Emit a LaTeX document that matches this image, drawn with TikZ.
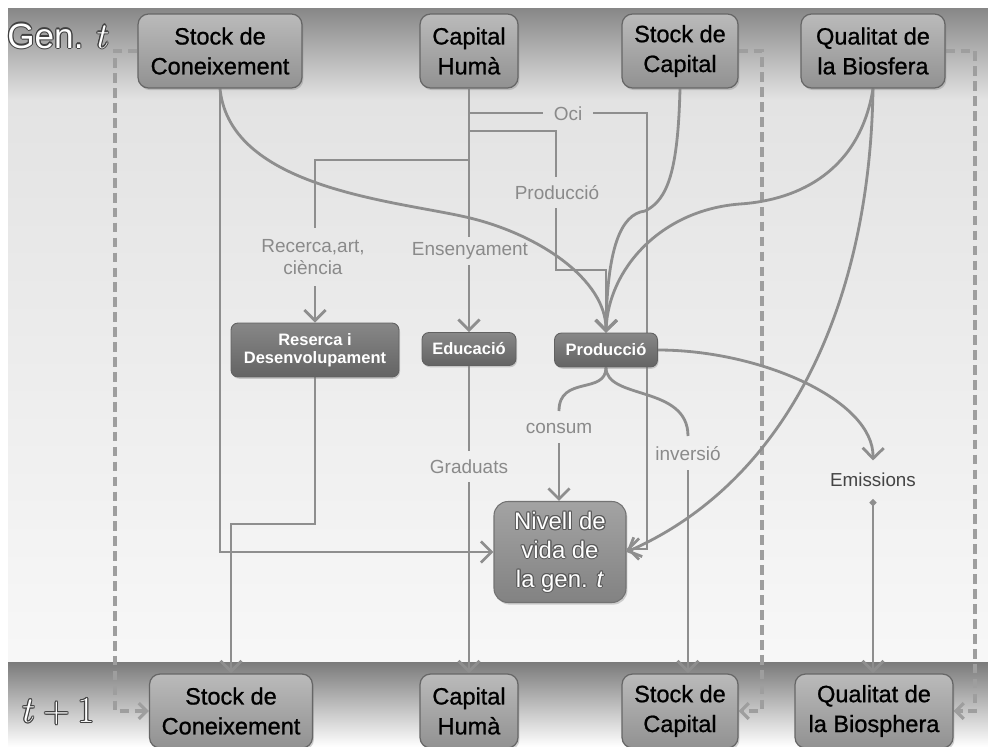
\documentclass[tikz,border=0pt]{standalone}
\usepackage{fontspec}
\setmainfont{Liberation Sans}
\newfontfamily\boxfont[FakeBold=0.9]{Liberation Sans}
\usetikzlibrary{arrows.meta,shadows,calc}
\definecolor{ln}{HTML}{8E8E8E}
\definecolor{lblc}{HTML}{8A8A8A}
\definecolor{dshc}{HTML}{9E9E9E}
\definecolor{emc}{HTML}{444444}
\newbox\halobox
\newcommand{\myhalo}[2][black!75]{\setbox\halobox=\hbox{#2}%
 \rlap{\kern0.65pt\textcolor{#1}{\copy\halobox}}%
 \rlap{\kern-0.65pt\textcolor{#1}{\copy\halobox}}%
 \rlap{\raise0.65pt\hbox{\textcolor{#1}{\copy\halobox}}}%
 \rlap{\lower0.65pt\hbox{\textcolor{#1}{\copy\halobox}}}%
 \rlap{\kern0.46pt\raise0.46pt\hbox{\textcolor{#1}{\copy\halobox}}}%
 \rlap{\kern-0.46pt\raise0.46pt\hbox{\textcolor{#1}{\copy\halobox}}}%
 \rlap{\kern0.46pt\lower0.46pt\hbox{\textcolor{#1}{\copy\halobox}}}%
 \rlap{\kern-0.46pt\lower0.46pt\hbox{\textcolor{#1}{\copy\halobox}}}%
 \textcolor{white}{\copy\halobox}}
\pgfdeclarelayer{bg}
\pgfdeclarelayer{lines}
\pgfsetlayers{bg,lines,main}
\tikzset{
 topbox/.style={draw=black!60, line width=0.7pt, rounded corners=6pt,
   top color=black!27, bottom color=black!43,
   drop shadow={opacity=0.35,shadow xshift=0.8pt,shadow yshift=-1.2pt},
   align=center, font=\boxfont\fontsize{13.4}{17}\selectfont, text=black, inner sep=0pt,
   minimum height=1.48cm},
 midbox/.style={draw=black!62, line width=0.5pt, rounded corners=4pt,
   top color=black!47, bottom color=black!61,
   drop shadow={opacity=0.35,shadow xshift=0.6pt,shadow yshift=-1pt},
   text=white, font=\bfseries\fontsize{9.4}{10.4}\selectfont, align=center, inner sep=0pt},
 nivbox/.style={draw=black!55, line width=0.6pt, rounded corners=8pt,
   top color=black!36, bottom color=black!49,
   drop shadow={opacity=0.35,shadow xshift=0.8pt,shadow yshift=-1.2pt},
   align=center, font=\fontsize{13.6}{16.5}\selectfont, inner sep=0pt},
 lbl/.style={text=lblc, font=\fontsize{10.8}{12.4}\selectfont, inner sep=1pt, align=center},
 plainln/.style={draw=ln, line width=1.6pt},
 conn/.style={draw=ln, line width=1.6pt, -{Straight Barb[length=6pt,width=12pt]}},
 dshln/.style={draw=dshc, line width=1.8pt, dash pattern=on 5.5pt off 3pt,
   -{Straight Barb[length=4.5pt,width=9pt]}},
}
\begin{document}
\begin{tikzpicture}[x=0.02cm,y=-0.02cm]
\useasboundingbox (0,0) rectangle (988,747);
\begin{pgfonlayer}{bg}
\fill[white] (0,0) rectangle (988,747);
\shade[top color=black!47, bottom color=black!11] (8,8) rectangle (988,100);
\shade[top color=black!11, bottom color=black!3] (8,100) rectangle (988,662);
\shade[top color=black!52, bottom color=white] (8,662) rectangle (988,747);
\end{pgfonlayer}

% top row
\node[topbox, minimum width=3.28cm] (SCt) at (220,51) {Stock de\\Coneixement};
\node[topbox, minimum width=1.96cm] (CHt) at (469,51) {Capital\\Humà};
\node[topbox, minimum width=2.32cm] (SKt) at (680,51) {Stock de\\Capital};
\node[topbox, minimum width=2.88cm] (QBt) at (873,51) {Qualitat de\\la Biosfera};
% bottom row
\node[topbox, minimum width=3.26cm] (SCb) at (231,711) {Stock de\\Coneixement};
\node[topbox, minimum width=1.96cm] (CHb) at (469,711) {Capital\\Humà};
\node[topbox, minimum width=2.32cm] (SKb) at (680,711) {Stock de\\Capital};
\node[topbox, minimum width=3.16cm] (QBb) at (874,711) {Qualitat de\\la Biosphera};
% middle
\node[midbox, minimum width=3.36cm, minimum height=1.08cm] (RD) at (315,350) {Reserca i\\Desenvolupament};
\node[midbox, minimum width=1.88cm, minimum height=0.66cm] (Ed) at (469,349) {Educació};
\node[midbox, minimum width=2.06cm, minimum height=0.68cm] (Pr) at (606,350) {Producció};
\node[nivbox, minimum width=2.64cm, minimum height=2.02cm] (Nv) at (560,552)
  {\myhalo[black!65]{Nivell de}\\\myhalo[black!65]{vida de}\\\myhalo[black!65]{la gen. \textit{t}}};
\node[text=emc, font=\fontsize{10.7}{12}\selectfont, inner xsep=2pt, inner ysep=7pt] (Em) at (873,480) {Emissions};
% labels
\node[lbl] (lOci) at (568,114) {Oci};
\node[lbl] (lProd) at (557,193) {Producció};
\node[lbl] (lRec) at (313,257) {Recerca,art,\\ciència};
\node[lbl] (lEns) at (470,251) {Ensenyament};
\node[lbl] (lGrad) at (469,467) {Graduats};
\node[lbl] (lCons) at (559,428) {consum};
\node[lbl] (lInv) at (688,454) {inversió};
% generation labels
\node[anchor=west, font=\fontsize{20}{24}\selectfont, inner sep=0pt] (gen) at (7,36) {\myhalo{Gen. $t$}};
\node[anchor=west, font=\fontsize{22}{26}\selectfont, inner sep=0pt] (tp1) at (22,712) {\myhalo{$t+1$}};

% coordinates
\coordinate (ens1) at (469,237); \coordinate (ens2) at (469,265);
\coordinate (gra1) at (469,451); \coordinate (gra2) at (469,482);
\coordinate (o1) at (469,113); \coordinate (o2) at (543,113);
\coordinate (o3) at (593,113); \coordinate (o4) at (647,113); \coordinate (o5) at (647,549);
\coordinate (p1) at (469,131); \coordinate (p2) at (556,131); \coordinate (p3) at (556,177);
\coordinate (p4) at (556,208); \coordinate (p5) at (556,270); \coordinate (p6) at (606,270);
\coordinate (r1) at (469,160); \coordinate (r2) at (315,160); \coordinate (r3) at (315,228);
\coordinate (r4) at (315,286);
\coordinate (rd1) at (315,524); \coordinate (rd2) at (231,524);
\coordinate (cs1) at (559,411); \coordinate (cs2) at (559,443);
\coordinate (iv1) at (688,436); \coordinate (iv2) at (688,470);
\coordinate (dl) at (115,51); \coordinate (dm) at (762,51); \coordinate (dr) at (975,51);

\begin{pgfonlayer}{lines}
% dashed generation links
\draw[dshln] (SCt.west) -- (dl) |- (SCb.west);
\draw[dshln] (SKt.east) -- (dm) |- (SKb.east);
\draw[dshln] (QBt.east) -- (dr) |- (QBb.east);
% capital huma trunk
\draw[plainln] (CHt.south) -- (ens1);
\draw[conn] (ens2) -- (Ed.north);
\draw[plainln] (Ed.south) -- (gra1);
\draw[conn] (gra2) -- (CHb.north);
% oci
\draw[plainln] (o1) -- (o2);
\draw[conn] (o3) -- (o4) -- (o5) -- (o5 -| Nv.east);
% produccio from capital huma
\draw[plainln] (p1) -- (p2) -- (p3);
\draw[conn] (p4) -- (p5) -- (p6) -- (Pr.north);
% recerca
\draw[plainln] (r1) -- (r2) -- (r3);
\draw[conn] (r4) -- (RD.north);
\draw[conn] (RD.south) -- (rd1) -- (rd2) -- (SCb.north);
% stock de coneixement
\draw[conn] (SCt.south) |- (Nv.west);
\draw[conn] (SCt.south) .. controls (230,190) and (400,201) .. (470,218)
   .. controls (540,235) and (606,280) .. (Pr.north);
% stock de capital
\draw[conn] (SKt.south) .. controls (678,170) and (668,200) .. (645,211)
   .. controls (620,214) and (607,250) .. (Pr.north);
% qualitat
\draw[conn] (QBt.south) .. controls (860,170) and (800,200) .. (740,204)
   .. controls (660,210) and (608,270) .. (Pr.north);
\draw[conn] (QBt.south) .. controls (870,300) and (790,480) .. (Nv.east);
% produccio outputs
\draw[conn] (Pr.east) .. controls (760,350) and (874,400) .. (Em.north);
\draw[plainln] (Pr.south) .. controls (606,395) and (559,375) .. (cs1);
\draw[conn] (cs2) -- (cs2 |- Nv.north);
\draw[plainln] (Pr.south) .. controls (606,400) and (688,385) .. (iv1);
\draw[conn] (iv2) -- (iv2 |- SKb.north);
% emissions
\draw[draw=ln, line width=1.6pt, {Circle[length=3.5pt]}-{Straight Barb[length=6pt,width=12pt]}] (Em.south) -- (Em.south |- QBb.north);
\end{pgfonlayer}
\end{tikzpicture}
\end{document}
